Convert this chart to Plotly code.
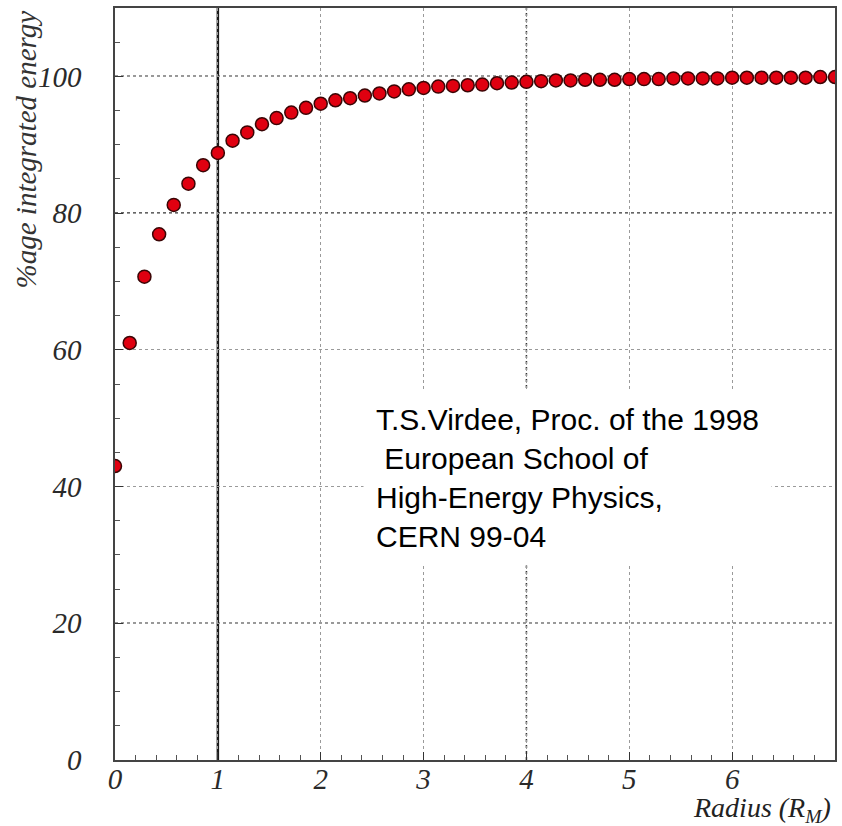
import plotly.graph_objects as go

# Lateral shower containment: radius in Moliere radii vs. integrated energy fraction
radius_rm = [
    0.000, 0.143, 0.286, 0.429, 0.571, 0.714, 0.857, 1.000, 1.143, 1.286,
    1.429, 1.571, 1.714, 1.857, 2.000, 2.143, 2.286, 2.429, 2.571, 2.714,
    2.857, 3.000, 3.143, 3.286, 3.429, 3.571, 3.714, 3.857, 4.000, 4.143,
    4.286, 4.429, 4.571, 4.714, 4.857, 5.000, 5.143, 5.286, 5.429, 5.571,
    5.714, 5.857, 6.000, 6.143, 6.286, 6.429, 6.571, 6.714, 6.857, 7.000,
]
energy_pct = [
    43.0, 61.0, 70.7, 76.9, 81.2, 84.3, 87.0, 88.8, 90.6, 91.8,
    93.0, 93.9, 94.7, 95.4, 96.0, 96.5, 96.8, 97.2, 97.5, 97.8,
    98.1, 98.3, 98.5, 98.6, 98.7, 98.8, 99.0, 99.1, 99.2, 99.3,
    99.4, 99.4, 99.5, 99.5, 99.5, 99.6, 99.6, 99.6, 99.7, 99.7,
    99.7, 99.7, 99.8, 99.8, 99.8, 99.8, 99.8, 99.8, 99.9, 99.9,
]

x_ticks = [0, 1, 2, 3, 4, 5, 6]
y_ticks = [0, 20, 40, 60, 80, 100]

serif_italic = "Liberation Serif"
tick_font = dict(family=serif_italic, size=29, color="#2a2a2a", style="italic")

fig = go.Figure()
fig.add_trace(go.Scatter(
    x=radius_rm, y=energy_pct, mode="markers",
    marker=dict(size=13, color="#e00010", line=dict(color="#3a0505", width=1.5)),
    showlegend=False, cliponaxis=True,
))

grid_common = dict(showgrid=True, gridcolor="#9a9a9a", griddash="dot", gridwidth=1,
                   zeroline=False, showline=True, linecolor="#444", linewidth=1.5,
                   mirror=True, ticks="inside", tickcolor="#333", ticklen=8,
                   tickfont=tick_font)

fig.update_xaxes(range=[0, 7.0], tickvals=x_ticks, ticktext=[str(v) for v in x_ticks],
                 ticklabelstandoff=-8,
                 minor=dict(dtick=0.2, tick0=0, ticks="inside", ticklen=5,
                            tickcolor="#555", showgrid=False),
                 **grid_common)
fig.update_yaxes(range=[0, 110], tickvals=y_ticks, ticktext=[str(v) for v in y_ticks],
                 ticklabelstandoff=26,
                 minor=dict(dtick=5, tick0=0, ticks="inside", ticklen=5,
                            tickcolor="#555", showgrid=False),
                 **grid_common)

# Emphasised reference lines
fig.add_shape(type="line", xref="x", yref="paper", x0=1, x1=1, y0=0, y1=1,
              line=dict(color="#1a1a1a", width=2.5), layer="below")
for xv in [4]:
    fig.add_shape(type="line", xref="x", yref="paper", x0=xv, x1=xv, y0=0, y1=1,
                  line=dict(color="#333", width=1.5, dash="dot"), layer="below")
for yv in [20, 80, 100]:
    fig.add_shape(type="line", xref="paper", yref="y", x0=0, x1=1, y0=yv, y1=yv,
                  line=dict(color="#333", width=1.5, dash="dot"), layer="below")

# Axis titles
fig.add_annotation(text="Radius (R<sub>M</sub>)", xref="paper", yref="paper",
                   x=0.997, y=-0.04, xanchor="right", yanchor="top", showarrow=False,
                   font=dict(family=serif_italic, size=28, color="#222", style="italic"))
fig.add_annotation(text="%age integrated energy", xref="paper", yref="paper",
                   x=-0.148, y=1.0, xanchor="left", yanchor="top", textangle=-90,
                   showarrow=False,
                   font=dict(family=serif_italic, size=29, color="#333", style="italic"))

# Source note
fig.add_annotation(
    text="T.S.Virdee, Proc. of the 1998<br>\u00a0European School of<br>"
         "High-Energy Physics,<br>CERN 99-04",
    xref="paper", yref="paper", x=0.345, y=0.492, xanchor="left", yanchor="top",
    align="left", showarrow=False, bgcolor="white", borderpad=12,
    font=dict(family="Liberation Sans", size=30, color="black"),
)

fig.update_layout(
    width=842, height=826,
    margin=dict(l=115, r=5, t=8, b=66),
    paper_bgcolor="white", plot_bgcolor="white",
)

fig.write_html("out.html")
